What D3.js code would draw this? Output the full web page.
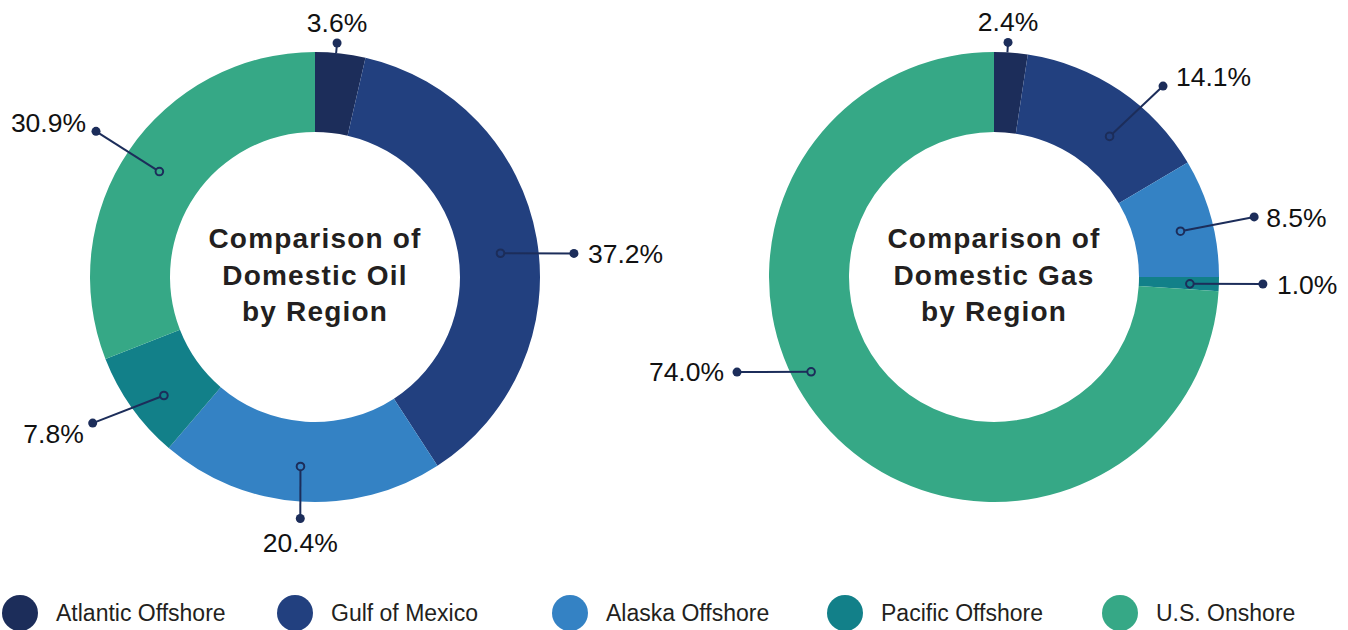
<!DOCTYPE html>
<meta charset="utf-8">
<head>
	<style>
		html, body { margin: 0; padding: 0; background: white; }
		svg { display: block; }
		.pct { font-family: "Liberation Sans", Arial, sans-serif; font-size: 26.5px; fill: #111; }
		.title { font-family: "Liberation Sans", Arial, sans-serif; font-size: 28px; font-weight: bold; fill: #231f20; letter-spacing: 1.2px; }
		.legtext { font-family: "Liberation Sans", Arial, sans-serif; font-size: 23px; fill: #231f20; }
	</style>
	<script src="https://d3js.org/d3.v7.min.js"></script>
</head>
<body>
	<script>

	// DATA
	var regions = ['Atlantic Offshore', 'Gulf of Mexico', 'Alaska Offshore', 'Pacific Offshore', 'U.S. Onshore'];
	var colors = ['#1c2d5a', '#22407f', '#3482c4', '#128089', '#36a886'];
	var oilShare = [3.6, 37.2, 20.4, 7.8, 30.9];
	var gasShare = [2.4, 14.1, 8.5, 1.0, 74.0];
	var oilTitle = ['Comparison of', 'Domestic Oil', 'by Region'];
	var gasTitle = ['Comparison of', 'Domestic Gas', 'by Region'];

	// leader layout (angles in degrees relative to slice middle)
	var oilLeaders = [
		{ edge: true, nudge: -1.1, r0: 225, endNudge: -1.1, r1: 235, anchor: 'middle', dx: 0, dy: -11 },
		{ nudge: 2.7, r0: 187, endNudge: 4.8, r1: 260, anchor: 'start', dx: 14, dy: 10 },
		{ nudge: 0.6, r0: 190, endNudge: -0.3, r1: 242, anchor: 'middle', dx: 0, dy: 33 },
		{ nudge: -2.7, r0: 192, endNudge: 2.1, r1: 266, anchor: 'end', dx: -9, dy: 20 },
		{ nudge: -0.2, r0: 188, endNudge: -0.7, r1: 263, anchor: 'end', dx: -10, dy: 1 }
	];
	var gasLeaders = [
		{ edge: true, nudge: -0.9, r0: 225, endNudge: -0.9, r1: 235, anchor: 'middle', dx: 0, dy: -11 },
		{ nudge: 5.4, r0: 182, endNudge: 7.5, r1: 255, anchor: 'start', dx: 13, dy: 0 },
		{ nudge: 1.5, r0: 192, endNudge: 2.3, r1: 267, anchor: 'start', dx: 12, dy: 10 },
		{ nudge: 0.2, r0: 196, endNudge: -0.3, r1: 269, anchor: 'start', dx: 14, dy: 10 },
		{ nudge: 15.8, r0: 206, endNudge: 22.9, r1: 274, anchor: 'end', dx: -13, dy: 9 }
	];

	// SETUP
	var width = 1348, height = 630,
		outerR = 225, innerR = 145,
		ink = '#1c2d5a';

	var svg = d3.select('body')
		.append('svg')
		.attr('width', width)
		.attr('height', height);

	var pie = d3.pie().sort(null).value(function(d) { return d; });
	var arc = d3.arc().innerRadius(innerR).outerRadius(outerR);

	function polar(angleRad, r) {
		return [r * Math.sin(angleRad), -r * Math.cos(angleRad)];
	}

	function drawDonut(cx, cy, values, title, leaders) {
		var g = svg.append('g')
			.attr('transform', 'translate(' + cx + ',' + cy + ')');

		var slices = pie(values);

		g.selectAll('path.slice')
			.data(slices)
			.enter().append('path')
			.attr('class', 'slice')
			.attr('d', arc)
			.attr('fill', function(d, i) { return colors[i]; });

		// leaders
		var rad = Math.PI / 180;
		slices.forEach(function(s, i) {
			var L = leaders[i],
				mid = (s.startAngle + s.endAngle) / 2,
				p0 = polar(mid + L.nudge * rad, L.r0),
				p1 = polar(mid + L.endNudge * rad, L.r1);

			g.append('line')
				.attr('x1', p0[0]).attr('y1', p0[1])
				.attr('x2', p1[0]).attr('y2', p1[1])
				.attr('stroke', ink)
				.attr('stroke-width', 2);

			if (!L.edge) {
				g.append('circle')
					.attr('cx', p0[0]).attr('cy', p0[1])
					.attr('r', 3.8)
					.attr('fill', colors[i])
					.attr('stroke', ink)
					.attr('stroke-width', 2);
			}

			g.append('circle')
				.attr('cx', p1[0]).attr('cy', p1[1])
				.attr('r', 4.5)
				.attr('fill', ink);

			g.append('text')
				.attr('class', 'pct')
				.attr('x', p1[0] + L.dx)
				.attr('y', p1[1] + L.dy)
				.attr('text-anchor', L.anchor)
				.text(d3.format('.1f')(s.data) + '%');
		});

		// centre title
		g.selectAll('text.title')
			.data(title)
			.enter().append('text')
			.attr('class', 'title')
			.attr('text-anchor', 'middle')
			.attr('x', 0)
			.attr('y', function(d, i) { return -29 + i * 36.5; })
			.text(function(d) { return d; });
	}

	drawDonut(315, 277, oilShare, oilTitle, oilLeaders);
	drawDonut(994, 277, gasShare, gasTitle, gasLeaders);

	// LEGEND
	var legendX = d3.scalePoint()
		.domain(regions)
		.range([20, 1120]);

	var leg = svg.append('g')
		.selectAll('g')
		.data(regions)
		.enter().append('g')
		.attr('transform', function(d) { return 'translate(' + legendX(d) + ',613)'; });

	leg.append('ellipse')
		.attr('rx', 18)
		.attr('ry', 18)
		.attr('fill', function(d, i) { return colors[i]; });

	leg.append('text')
		.attr('class', 'legtext')
		.attr('x', 36)
		.attr('y', 8)
		.text(function(d) { return d; });

	</script>
</body>
